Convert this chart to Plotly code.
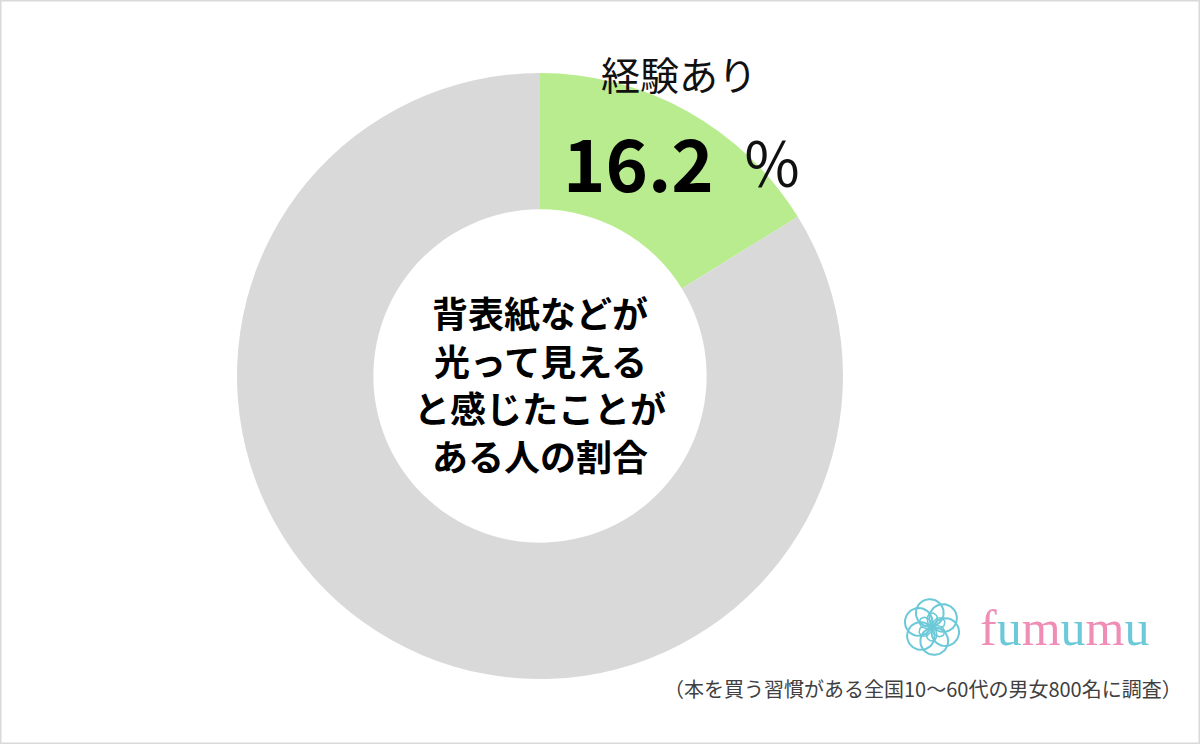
import numpy as np
import plotly.graph_objects as go

# ---- data ----
labels = ["経験あり", "経験なし"]
values = [16.2, 83.8]
colors = ["#b9ec8f", "#d9d9d9"]
label_title = "経験あり"
label_value = "16.2"
center_lines = ["背表紙などが", "光って見える", "と感じたことが", "ある人の割合"]
footnote = "（本を買う習慣がある全国10～60代の男女800名に調査）"
brand = "fumumu"

W, H = 1200, 744
JP = "Noto Sans CJK JP, Noto Sans CJK SC, sans-serif"

fig = go.Figure()

cx, cy, R = 540, 376, 303
fig.add_trace(go.Pie(
    labels=labels, values=values, sort=False, direction="clockwise", rotation=0,
    hole=0.55, marker=dict(colors=colors, line=dict(width=0)),
    textinfo="none", hoverinfo="label+percent", showlegend=False,
    domain=dict(x=[(cx - R) / W, (cx + R) / W], y=[(H - cy - R) / H, (H - cy + R) / H]),
))

# logo flower (decoration) on pixel-coordinate axes
fx, fy = 932, 627
for k in range(6):
    base = k * np.pi / 3
    t = np.linspace(0, np.pi, 40)
    r = 28 * np.sin(t) ** 0.8
    ang = base + t * 0.9
    fig.add_trace(go.Scatter(x=fx + r * np.cos(ang), y=fy + r * np.sin(ang), mode="lines",
                             line=dict(color="#6cc9d8", width=2),
                             hoverinfo="skip", showlegend=False))
    t2 = np.linspace(0, np.pi, 30)
    r2 = 14 * np.sin(t2)
    ang2 = base + 0.5 + t2 * 0.7
    fig.add_trace(go.Scatter(x=fx + r2 * np.cos(ang2), y=fy + r2 * np.sin(ang2), mode="lines",
                             line=dict(color="#6cc9d8", width=1.5), hoverinfo="skip", showlegend=False))

annotations = []
annotations.append(dict(x=679, y=73, text=label_title, showarrow=False,
                        font=dict(family=JP, size=39, color="#111111"),
                        xanchor="center", yanchor="middle"))
annotations.append(dict(x=716, y=160, text="<b>" + label_value + "</b>", showarrow=False,
                        font=dict(family=JP, size=72, color="#000000"),
                        xanchor="right", yanchor="middle"))
annotations.append(dict(x=740, y=160, text="％", showarrow=False,
                        font=dict(family=JP, size=60, color="#111111"),
                        xanchor="left", yanchor="middle"))
for i, line in enumerate(center_lines):
    annotations.append(dict(x=540, y=312 + i * 47.5, text="<b>" + line + "</b>", showarrow=False,
                            font=dict(family=JP, size=36, color="#000000"),
                            xanchor="center", yanchor="middle"))
annotations.append(dict(x=1184, y=688, text=footnote, showarrow=False,
                        font=dict(family=JP, size=20, color="#404040"),
                        xanchor="right", yanchor="middle"))
brand_cols = ["#f08db6", "#6cc9d8"]
brand_html = "".join(
    f'<span style="color:{brand_cols[i % 2]}">{ch}</span>' for i, ch in enumerate(brand))
annotations.append(dict(x=1064, y=628, text=brand_html, showarrow=False,
                        font=dict(family="Liberation Serif, DejaVu Serif, serif", size=50),
                        xanchor="center", yanchor="middle"))

fig.update_layout(
    width=W, height=H, margin=dict(l=0, r=0, t=0, b=0),
    paper_bgcolor="white", plot_bgcolor="rgba(0,0,0,0)",
    xaxis=dict(range=[0, W], visible=False, domain=[0, 1], fixedrange=True),
    yaxis=dict(range=[H, 0], visible=False, domain=[0, 1], fixedrange=True),
    annotations=[dict(a, xref="x", yref="y") for a in annotations],
    shapes=[dict(type="rect", xref="paper", yref="paper", x0=0, y0=0, x1=1, y1=1,
                 line=dict(color="#d9d9d9", width=3))],
)

fig.write_html("out.html", config={"displayModeBar": False},
               post_script="document.body.style.margin='0';document.body.style.padding='0';")
